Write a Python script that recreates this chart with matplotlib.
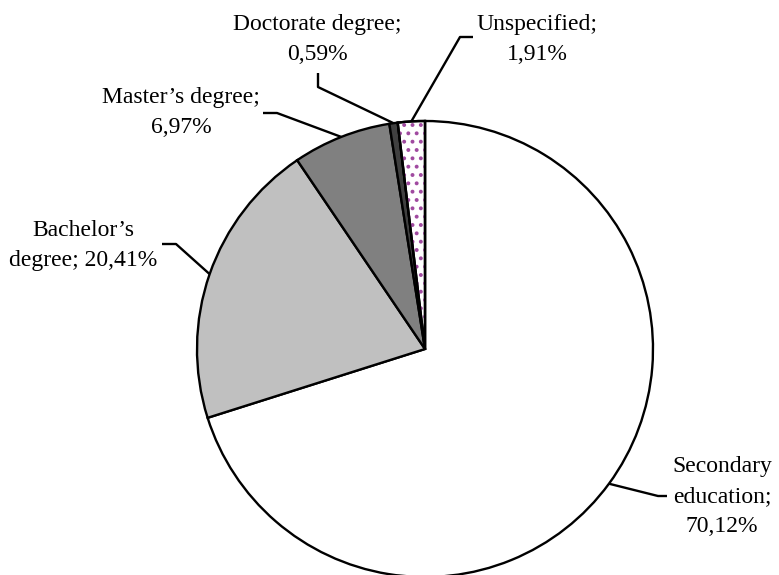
import numpy as np
import matplotlib
matplotlib.use("Agg")
import matplotlib.pyplot as plt
from matplotlib.patches import Wedge

# Education level shares (%)
categories = ["Secondary education", "Bachelor\u2019s degree", "Master\u2019s degree",
              "Doctorate degree", "Unspecified"]
values = [70.12, 20.41, 6.97, 0.59, 1.91]
value_labels = ["70,12%", "20,41%", "6,97%", "0,59%", "1,91%"]
colors = ["#ffffff", "#c0c0c0", "#808080", "#404040", "#ffffff"]

plt.rcParams["font.family"] = ["Liberation Serif", "DejaVu Serif"]
plt.rcParams["hatch.linewidth"] = 1.6

W, H = 779, 575
fig = plt.figure(figsize=(W / 100, H / 100), dpi=100)
ax = fig.add_axes([0, 0, 1, 1])

cx, cy, R = 425, H - 349, 228
wedges, _ = ax.pie(values, colors=colors, startangle=90, counterclock=False,
                   radius=R, center=(cx, cy), frame=True,
                   wedgeprops=dict(edgecolor="black", linewidth=1.7))
ax.set_xlim(0, W)
ax.set_ylim(0, H)
ax.set_aspect("equal")
ax.axis("off")

# dotted fill for the unspecified slice
w = wedges[4]
dots = Wedge((cx, cy), R, w.theta1, w.theta2, facecolor="none",
             edgecolor="#a04aa0", hatch="..", linewidth=0, zorder=w.get_zorder() + 0.1)
ax.add_patch(dots)
outline = Wedge((cx, cy), R, w.theta1, w.theta2, facecolor="none",
                edgecolor="black", linewidth=1.7, zorder=w.get_zorder() + 0.2)
ax.add_patch(outline)

# label text built from the category names and values
label_text = [
    "Secondary\neducation;\n" + value_labels[0],
    "Bachelor\u2019s\ndegree; " + value_labels[1],
    "Master\u2019s degree;\n" + value_labels[2],
    "Doctorate degree;\n" + value_labels[3],
    "Unspecified;\n" + value_labels[4],
]
# (center x, baseline of last line) in image px
label_pos = [(722, 532), (83, 266), (181, 133), (317, 60), (537, 60)]
# leader elbows (image px), from the text side toward the pie
leaders = [
    [(667, 496), (658, 496)],
    [(162, 244), (176, 244)],
    [(263, 113), (277, 113)],
    [(318, 73), (318, 87)],
    [(473, 37), (460, 37)],
]

for i, wd in enumerate(wedges):
    mid = np.deg2rad((wd.theta1 + wd.theta2) / 2)
    ex, ey = cx + R * np.cos(mid), cy + R * np.sin(mid)
    pts = [(x, H - y) for x, y in leaders[i]] + [(ex, ey)]
    xs, ys = zip(*pts)
    ax.plot(xs, ys, color="black", lw=1.7, solid_capstyle="butt", zorder=5)
    tx, ty = label_pos[i]
    ax.text(tx, H - ty, label_text[i], ha="center", va="baseline",
            multialignment="center", fontsize=17, linespacing=1.55)

fig.savefig("out.png", dpi=100)
